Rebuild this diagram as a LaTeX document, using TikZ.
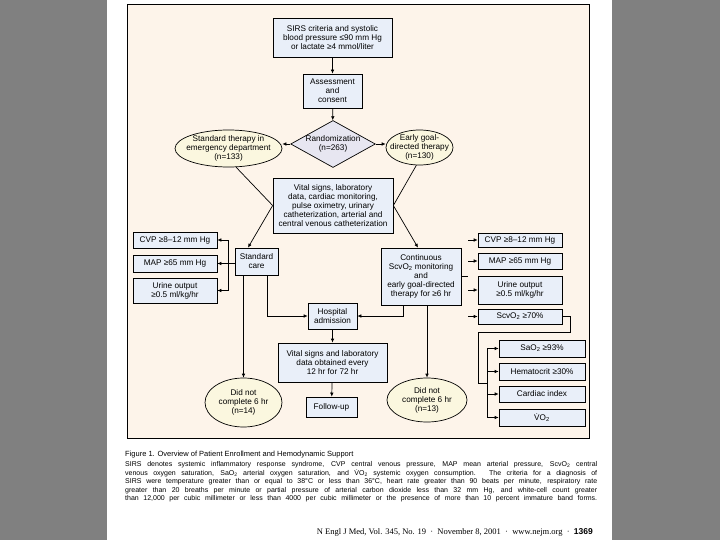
\documentclass[tikz,border=0pt]{standalone}
\usepackage{fontspec}
\setmainfont{Liberation Sans}
\newfontfamily\seriffont{Liberation Serif}
\usetikzlibrary{shapes.geometric,arrows.meta,calc}
\definecolor{pagegray}{HTML}{808080}
\definecolor{panel}{HTML}{FDF4EA}
\definecolor{boxblue}{HTML}{E9EFF9}
\definecolor{ellyel}{HTML}{FBF7DF}
\definecolor{diamlav}{HTML}{E7E6F1}
\begin{document}
\begin{tikzpicture}[x=1pt,y=-1pt,
  box/.style={draw, fill=boxblue, rectangle, inner sep=0pt, align=center,
    font=\fontsize{8.2}{9}\selectfont, line width=0.7pt},
  ell/.style={draw, fill=ellyel, ellipse, inner xsep=-14pt, inner ysep=-4pt, align=center,
    font=\fontsize{8.2}{9}\selectfont, line width=0.7pt},
  arr/.style={-{Latex[length=4pt,width=3.6pt]}, line width=0.7pt},
  con/.style={line width=0.7pt},
  capline/.style={anchor=west, inner sep=0pt, font=\fontsize{7}{8}\selectfont}]
\fill[pagegray] (0,0) rectangle (720,540);
\useasboundingbox (0,0) rectangle (720,540);
\fill[white] (107,0) rectangle (612,540);
\draw[fill=panel, line width=1pt] (127,5) rectangle (589,438);

% top chain
\node[box, minimum width=119pt, minimum height=39pt] (sirs) at (332.5,37.5)
  {SIRS criteria and systolic\\blood pressure ≤90 mm Hg\\or lactate ≥4 mmol/liter};
\node[box, minimum width=59pt, minimum height=34pt] (assess) at (332.5,91)
  {Assessment\\and\\consent};
\node[draw, fill=diamlav, diamond, aspect=1.8, inner sep=0pt, align=center,
  font=\fontsize{8.2}{9}\selectfont, line width=0.7pt] (rand) at (333,144)
  {Randomization\\(n=263)};
\node[ell, minimum width=107pt, minimum height=37pt] (stdth) at (228.5,148.5)
  {Standard therapy in\\emergency department\\(n=133)};
\node[ell, minimum width=67pt, minimum height=35pt] (egdt) at (419.5,147.5)
  {Early goal-\\directed therapy\\(n=130)};
\node[box, minimum width=120pt, minimum height=55pt] (vital) at (333,205.5)
  {Vital signs, laboratory\\data, cardiac monitoring,\\pulse oximetry, urinary\\catheterization, arterial and\\central venous catheterization};

% standard care side
\node[box, minimum width=43pt, minimum height=27pt] (stdcare) at (256.5,261.5)
  {Standard\\care};
\node[box, minimum width=84pt, minimum height=16pt] (lcvp) at (175,240) {CVP ≥8–12 mm Hg};
\node[box, minimum width=84pt, minimum height=17pt] (lmap) at (175,263.5) {MAP ≥65 mm Hg};
\node[box, minimum width=84pt, minimum height=25pt] (lurine) at (175,290.5) {Urine output\\≥0.5 ml/kg/hr};

% EGDT side
\node[box, minimum width=80pt, minimum height=57pt] (cont) at (421,276.5)
  {Continuous\\ScvO\textsubscript{2} monitoring\\and\\early goal-directed\\therapy for ≥6 hr};
\node[box, minimum width=84pt, minimum height=14pt] (rcvp) at (520,240) {CVP ≥8–12 mm Hg};
\node[box, minimum width=84pt, minimum height=16pt] (rmap) at (520,261) {MAP ≥65 mm Hg};
\node[box, minimum width=84pt, minimum height=28pt] (rurine) at (520,290) {Urine output\\≥0.5 ml/kg/hr};
\node[box, minimum width=84pt, minimum height=15pt] (rscv) at (520,316.5) {ScvO\textsubscript{2} ≥70\%};
\node[box, minimum width=86pt, minimum height=17pt] (sao2) at (542,348.5) {SaO\textsubscript{2} ≥93\%};
\node[box, minimum width=86pt, minimum height=17pt] (hct) at (542,371.5) {Hematocrit ≥30\%};
\node[box, minimum width=86pt, minimum height=16pt] (ci) at (542,394) {Cardiac index};
\node[box, minimum width=86pt, minimum height=17pt] (vo2) at (542,417.5) {\.{V}O\textsubscript{2}};

% lower chain
\node[box, minimum width=49pt, minimum height=26pt] (hosp) at (332.5,316) {Hospital\\admission};
\node[box, minimum width=109pt, minimum height=39pt] (vital2) at (332.5,362.5)
  {Vital signs and laboratory\\data obtained every\\12 hr for 72 hr};
\node[box, minimum width=51pt, minimum height=20pt] (follow) at (331.5,407) {Follow-up};
\node[ell, minimum width=77pt, minimum height=49pt] (dnc1) at (243.5,402.5)
  {Did not\\complete 6 hr\\(n=14)};
\node[ell, minimum width=80pt, minimum height=44pt] (dnc2) at (427,400)
  {Did not\\complete 6 hr\\(n=13)};

% connectors top
\draw[arr] (sirs) -- (assess);
\draw[arr] (assess) -- (rand);
\draw[arr] (rand.west) -- (stdth.east |- rand.west);
\draw[arr] (rand.east) -- (egdt.west |- rand.east);
\draw[con] (stdth.-68) -- (vital.west);
\draw[con] (egdt.-100) -- (vital.east);
\draw[arr] (vital.west) -- ([xshift=-8.5pt]stdcare.north);
\draw[arr] (vital.east) -- ([xshift=-3pt]cont.north);

% standard care outputs
\coordinate (lbus) at ($(lcvp.east)+(11,0)$);
\draw[arr] (lmap.east -| stdcare.west) -- (lmap.east);
\draw[con] (lbus) -- (lbus |- lurine.east);
\draw[arr] (lbus) -- (lcvp.east);
\draw[arr] (lbus |- lurine.east) -- (lurine.east);
\draw[arr] (stdcare.south -| dnc1.north) -- (dnc1.north);
\draw[arr] ([xshift=10.5pt]stdcare.south) |- (hosp.west);

% EGDT outputs
\draw[arr] ([xshift=-18pt]cont.south) |- (hosp.east);
\draw[arr] (cont.south -| dnc2.north) -- (dnc2.north);
\coordinate (rstub) at (468,276);
\draw[con] (cont.east |- rstub) -- (rstub);
\coordinate (rbx) at (468,0);
\draw[arr] (rbx |- rcvp.west) -- (rcvp.west);
\draw[arr] (rbx |- rmap.west) -- (rmap.west);
\draw[arr] (rbx |- rurine.west) -- (rurine.west);
\draw[arr] (rbx |- rscv.west) -- (rscv.west);
\coordinate (j1) at (570,332);
\coordinate (j2) at (478,383);
\coordinate (sbx) at (487,0);
\draw[con] (rscv.east) -| (j1) -- (j1 -| j2) -- (j2) -- (j2 -| sbx);
\draw[con] (sbx |- sao2.west) -- (sbx |- vo2.west);
\draw[arr] (sbx |- sao2.west) -- (sao2.west);
\draw[arr] (sbx |- hct.west) -- (hct.west);
\draw[arr] (sbx |- ci.west) -- (ci.west);
\draw[arr] (sbx |- vo2.west) -- (vo2.west);

% lower chain
\draw[arr] (hosp) -- (vital2);
\draw[arr] (vital2) -- (follow);

% caption
\node[anchor=west, inner sep=0pt, font=\fontsize{7.5}{9}\selectfont] (cap0) at (125,455)
  {Figure 1. Overview of Patient Enrollment and Hemodynamic Support};
\node[capline] (cap1) at (125,464.3) {\makebox[472pt][s]{SIRS denotes systemic inflammatory response syndrome, CVP central venous pressure, MAP mean arterial pressure, ScvO\textsubscript{2} central}};
\node[capline] (cap2) at (125,473.0) {\makebox[472pt][s]{venous oxygen saturation, SaO\textsubscript{2} arterial oxygen saturation, and \.{V}O\textsubscript{2} systemic oxygen consumption. The criteria for a diagnosis of}};
\node[capline] (cap3) at (125,481.7) {\makebox[472pt][s]{SIRS were temperature greater than or equal to 38°C or less than 36°C, heart rate greater than 90 beats per minute, respiratory rate}};
\node[capline] (cap4) at (125,490.2) {\makebox[472pt][s]{greater than 20 breaths per minute or partial pressure of arterial carbon dioxide less than 32 mm Hg, and white-cell count greater}};
\node[capline] (cap5) at (125,498.6) {\makebox[472pt][s]{than 12,000 per cubic millimeter or less than 4000 per cubic millimeter or the presence of more than 10 percent immature band forms.}};
\node[anchor=east, inner sep=0pt] (foot) at (593,532)
  {{\seriffont\fontsize{8.5}{10}\selectfont N Engl J Med, Vol. 345, No. 19 \ \textperiodcentered\ \ November 8, 2001 \ \textperiodcentered\ \ www.nejm.org \ \textperiodcentered\ \ }{\fontsize{8.5}{10}\selectfont\bfseries 1369}};
\end{tikzpicture}
\end{document}
